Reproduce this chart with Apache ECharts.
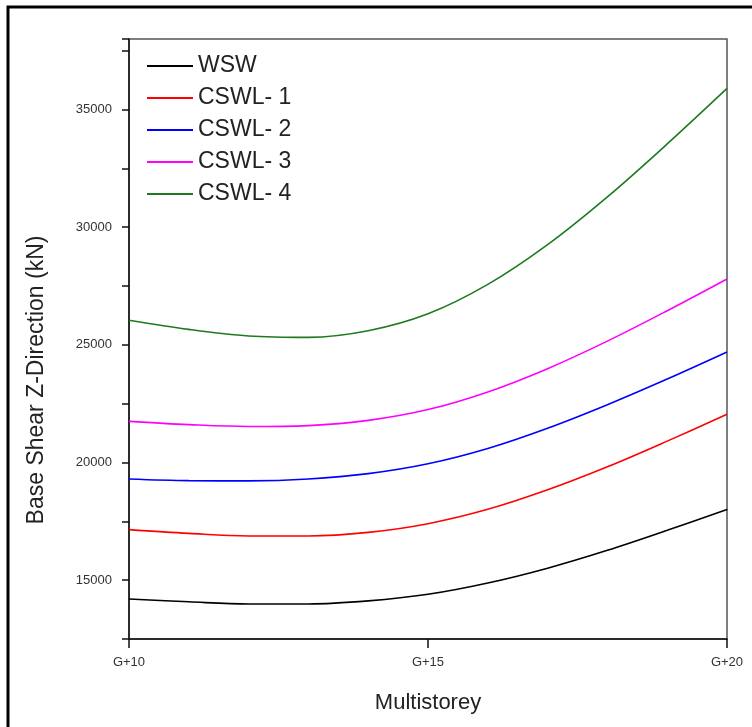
<!DOCTYPE html>
<html>
<head>
<meta charset="utf-8">
<script src="https://cdn.jsdelivr.net/npm/echarts@6/dist/echarts.min.js"></script>
<style>html,body{margin:0;padding:0;background:#fff;}#c{width:752px;height:727px;}</style>
</head>
<body>
<div id="c"></div>
<script>
const storeys = [10, 11, 12, 13, 14, 15, 16, 17, 18, 19, 20];
const xTickLabels = ['G+10', 'G+15', 'G+20'];
const seriesNames = ['WSW', 'CSWL- 1', 'CSWL- 2', 'CSWL- 3', 'CSWL- 4'];
const wsw   = [14200, 14080, 13990, 13990, 14120, 14400, 14880, 15510, 16270, 17120, 18000];
const cswl1 = [17150, 16990, 16880, 16880, 17030, 17400, 18010, 18840, 19820, 20910, 22050];
const cswl2 = [19300, 19230, 19220, 19300, 19530, 19950, 20600, 21460, 22460, 23550, 24700];
const cswl3 = [21750, 21610, 21530, 21570, 21790, 22250, 23000, 23990, 25160, 26450, 27800];
const cswl4 = [26050, 25660, 25380, 25320, 25600, 26320, 27570, 29260, 31290, 33540, 35900];
const colors = ['#000000', '#ff0000', '#0000ff', '#ff00ff', '#1f7a1f'];
const allValues = [wsw, cswl1, cswl2, cswl3, cswl4];

const font = '"Liberation Sans", Arial, sans-serif';
const chart = echarts.init(document.getElementById('c'), null, {renderer: 'canvas'});
chart.setOption({
  animation: false,
  backgroundColor: '#fff',
  grid: {left: 129, right: 25, top: 39, bottom: 88, show: true, borderColor: '#555', borderWidth: 1.5, backgroundColor: 'transparent'},
  legend: {
    orient: 'vertical', left: 142, top: 49,
    itemWidth: 46, itemHeight: 2, itemGap: 8,
    textStyle: {fontFamily: font, fontSize: 23, color: '#222', lineHeight: 24},
    data: seriesNames.map(function (n) { return {name: n, icon: 'rect'}; })
  },
  xAxis: {
    type: 'value', min: 10, max: 20, interval: 5,
    name: 'Multistorey', nameLocation: 'middle', nameGap: 53,
    nameTextStyle: {fontFamily: font, fontSize: 22, color: '#222'},
    axisLine: {show: true, lineStyle: {color: '#111', width: 1.5}},
    axisTick: {show: true, inside: false, length: 9, lineStyle: {color: '#111', width: 1.5}},
    axisLabel: {fontFamily: font, fontSize: 13, color: '#333', margin: 17,
      formatter: function (v) { const i = [10, 15, 20].indexOf(v); return i >= 0 ? xTickLabels[i] : ''; }},
    splitLine: {show: false}
  },
  yAxis: {
    type: 'value', min: 12500, max: 38000, interval: 2500,
    axisLine: {show: true, lineStyle: {color: '#111', width: 1.5}},
    axisTick: {show: true, inside: false, length: 7, lineStyle: {color: '#111', width: 1.5}},
    axisLabel: {fontFamily: font, fontSize: 13, color: '#333', margin: 17,
      formatter: function (v) { return (v % 5000 === 0) ? String(v) : ''; }},
    splitLine: {show: false}
  },
  graphic: [
    {type: 'rect', shape: {x: 8, y: 7, width: 800, height: 800}, style: {fill: 'none', stroke: '#000', lineWidth: 3}, silent: true},
    {type: 'text', x: 37, y: 380, rotation: Math.PI / 2,
      style: {text: 'Base Shear Z-Direction (kN)', fontFamily: font, fontSize: 23, fill: '#222', textAlign: 'center', textVerticalAlign: 'middle'}}
  ],
  series: seriesNames.map(function (n, i) {
    return {
      name: n, type: 'line', smooth: 0.35, symbol: 'none', showSymbol: false,
      lineStyle: {color: colors[i], width: 1.6}, itemStyle: {color: colors[i]},
      data: storeys.map(function (s, j) { return [s, allValues[i][j]]; })
    };
  })
});
</script>
</body>
</html>
